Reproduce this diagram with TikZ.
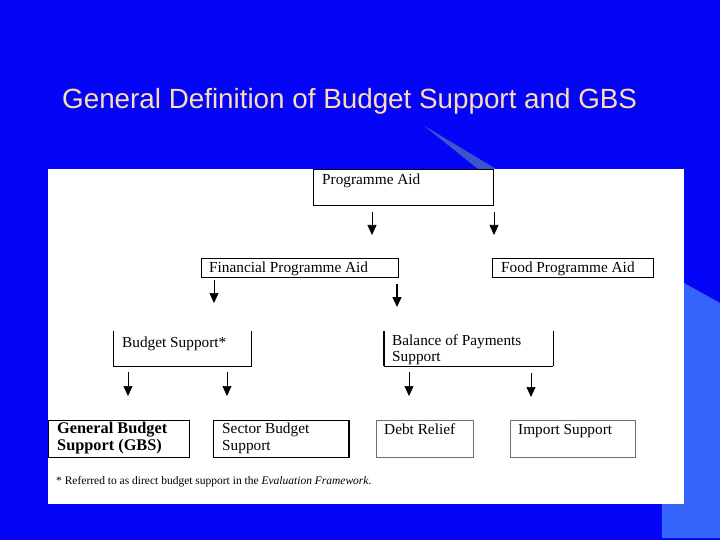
\documentclass[tikz,border=0pt]{standalone}
\usepackage{fontspec}
\setmainfont{Liberation Serif}
\newfontfamily\titlefont{Liberation Sans}
\usetikzlibrary{arrows.meta}
\definecolor{bgblue}{RGB}{4,4,246}
\definecolor{lightblue}{RGB}{52,100,250}
\definecolor{wedgeblue}{RGB}{60,85,205}
\definecolor{titlecol}{RGB}{250,220,185}
\definecolor{boxgrey}{RGB}{110,110,110}
\begin{document}
\begin{tikzpicture}[x=1pt,y=-1pt,
  box/.style={draw=black, line width=0.7pt, inner sep=0pt, anchor=north west},
  openbox/.style={draw=none, inner sep=0pt, anchor=north west},
  lbl/.style={inner sep=0pt, anchor=base west, font=\fontsize{15.3}{18}\selectfont},
  arr/.style={line width=0.6pt, -{Triangle[width=9pt,length=10pt]}},
]
\fill[bgblue] (0,0) rectangle (720,540);
\useasboundingbox (0,0) rectangle (720,540);
\fill[lightblue] (661,283) -- (684,283) -- (720,303) -- (720,538) -- (662,538) -- cycle;
\fill[wedgeblue] (423,125) -- (496,169) -- (478,169) -- cycle;
\fill[white] (48,169) rectangle (684,504);

\node[anchor=base west, inner sep=0pt, font=\titlefont\fontsize{27.8}{32}\selectfont, text=titlecol] (title) at (62,109) {General Definition of Budget Support and GBS};

% boxes
\node[box, minimum width=180, minimum height=36] (pa) at (313,169) {};
\node[box, minimum width=197, minimum height=19] (fpa) at (201,258) {};
\node[box, minimum width=161, minimum height=19] (food) at (492,258) {};
\node[openbox, minimum width=138, minimum height=35] (bs) at (113,331) {};
\node[openbox, minimum width=169, minimum height=35] (bop) at (384,331) {};
\node[box, minimum width=141, minimum height=37] (gbs) at (48,420) {};
\node[box, minimum width=135, minimum height=37] (sbs) at (213,420) {};
\node[box, draw=boxgrey, minimum width=97, minimum height=37] (debt) at (376,420) {};
\node[box, draw=boxgrey, minimum width=125, minimum height=37] (imp) at (510,420) {};

\draw[line width=0.7pt] (bs.north west) -- (bs.south west) -- (bs.south east) -- (bs.north east);
\draw[line width=0.7pt] (bop.south west) -- (bop.south east);
\draw[line width=1.6pt] (bop.north west) -- (bop.south west);
\draw[line width=1.6pt] (bop.north east) -- (bop.south east);
\draw[line width=1.6pt] (sbs.north east) -- (sbs.south east);
\draw[line width=1.2pt] (food.north east) -- (food.south east);

% labels
\node[lbl] (tpa) at (322,185) {Programme Aid};
\node[lbl] (tfpa) at (209,272) {Financial Programme Aid};
\node[lbl] (tfood) at (501,272) {Food Programme Aid};
\node[lbl] (tbs) at (122,347) {Budget Support*};
\node[lbl, align=left, anchor=north west] (tbop) at (392,334.5) {Balance of Payments\\[-1.5pt]Support};
\node[lbl, align=left, anchor=north west, font=\bfseries\fontsize{16.3}{18}\selectfont] (tgbs) at (57,422) {General Budget\\[-1pt]Support (GBS)};
\node[lbl, align=left, anchor=north west] (tsbs) at (222,422.5) {Sector Budget\\[-1pt]Support};
\node[lbl] (tdebt) at (384,434) {Debt Relief};
\node[lbl] (timp) at (518,434) {Import Support};

\node[anchor=base west, inner sep=0pt, font=\fontsize{11.5}{13}\selectfont] (fn) at (56,484) {* Referred to as direct budget support in the \textit{Evaluation Framework}.};

% arrows
\coordinate (a1s) at (372,212); \coordinate (a1e) at (372,235);
\coordinate (a2s) at (494,212); \coordinate (a2e) at (494,235);
\coordinate (a3s) at (214,280); \coordinate (a3e) at (214,303);
\coordinate (a4s) at (397,284); \coordinate (a4e) at (397,307);
\coordinate (a5s) at (128,372); \coordinate (a5e) at (128,396);
\coordinate (a6s) at (227,372); \coordinate (a6e) at (227,396);
\coordinate (a7s) at (409,372); \coordinate (a7e) at (409,396);
\coordinate (a8s) at (531,373); \coordinate (a8e) at (531,397);
\draw[arr] (a1s) -- (a1e);
\draw[arr] (a2s) -- (a2e);
\draw[arr] (a3s) -- (a3e);
\draw[arr, line width=1.4pt] (a4s) -- (a4e);
\draw[arr] (a5s) -- (a5e);
\draw[arr] (a6s) -- (a6e);
\draw[arr] (a7s) -- (a7e);
\draw[arr] (a8s) -- (a8e);
\end{tikzpicture}
\end{document}
